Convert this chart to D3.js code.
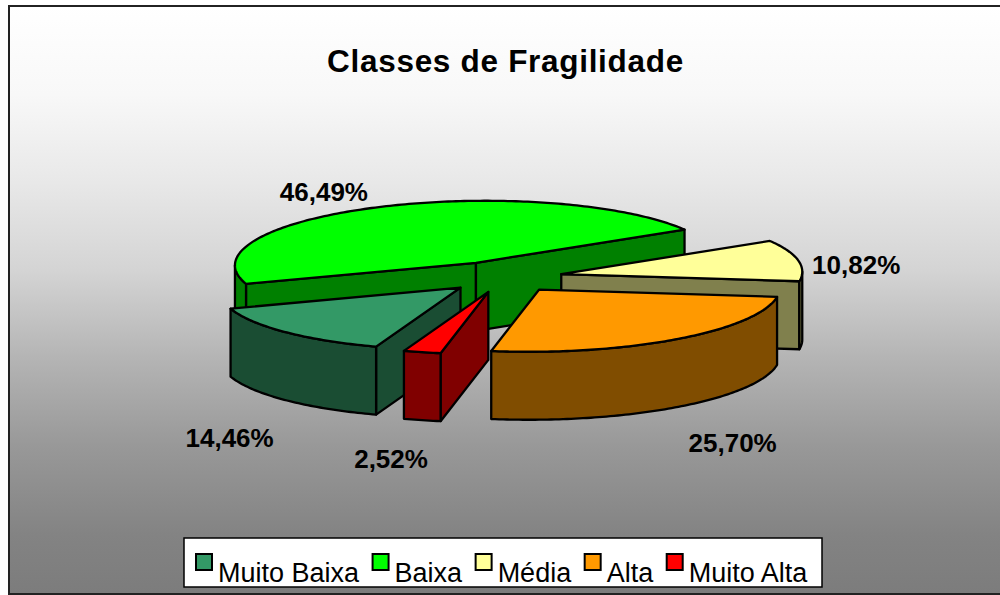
<!DOCTYPE html>
<html><head><meta charset="utf-8">
<script src="https://cdn.jsdelivr.net/npm/d3@7/dist/d3.min.js"></script>
<style>html,body{margin:0;padding:0;background:#fff;overflow:hidden}svg{display:block}
text{font-family:"Liberation Sans",Arial,sans-serif;fill:#000}</style></head>
<body><script>
const categories=["Muito Baixa","Baixa","Média","Alta","Muito Alta"];
const values=[14.46,46.49,10.82,25.70,2.52];
const valueLabels=["14,46%","46,49%","10,82%","25,70%","2,52%"];
const topColors=["#339966","#00ff00","#ffff99","#ff9900","#ff0000"];
const sideColors=["#1a4d33","#008000","#80804d","#804d00","#800000"];
const labelNudges=[[-56,47],[-55,-6],[58,14],[56,45],[-31,48]];
const chartTitle="Classes de Fragilidade";
const gradOffsets=[0,0.15,0.3,0.45,0.6,0.75,0.9,1];
const gradGrays=["#ffffff","#f8f8f8","#e8e8e8","#d4d4d4","#b4b4b4","#989898","#838383","#7c7c7c"];

const W=1000,H=595;
const cx=502.5,cy=277,Rx=241,Ry=62,depth=68,explode=0.25,shearX=10,shearY=2.5;
const svg=d3.select("body").append("svg").attr("width",W).attr("height",H);
const grad=svg.append("defs").append("linearGradient").attr("id","bg").attr("x1",0).attr("x2",0).attr("y1",0).attr("y2",1);
gradOffsets.forEach((o,i)=>grad.append("stop").attr("offset",o).attr("stop-color",gradGrays[i]));
svg.append("rect").attr("x",9).attr("y",6).attr("width",W+20).attr("height",588)
  .attr("fill","url(#bg)").attr("stroke","#222").attr("stroke-width",2);
svg.append("text").attr("x",505.5).attr("y",72).attr("text-anchor","middle")
  .attr("font-weight","bold").attr("font-size",31.5).attr("letter-spacing",0.7).text(chartTitle);

const x=d3.scaleLinear().domain([-1,1]).range([cx-Rx,cx+Rx]);
const y=d3.scaleLinear().domain([-1,1]).range([cy-Ry,cy+Ry]);
const pie=d3.pie().sort(null).startAngle(200.5*Math.PI/180).endAngle((200.5+360)*Math.PI/180);
const arcs=pie(values).map((d,i)=>{
  const s=d.startAngle-Math.PI/2,e=d.endAngle-Math.PI/2,m=(s+e)/2;
  return {i,s,e,m,ox:explode*Math.cos(m),oy:explode*Math.sin(m)};
});
const line=d3.line().curve(d3.curveLinear);
const pt=(a,t,z)=>[x(a.ox+t*Math.cos(z))+shearX*a.oy,y(a.oy+t*Math.sin(z))-shearY*t*Math.cos(z)];
const down=(p)=>[p[0],p[1]+depth];
function sweep(a,from,to){const n=Math.max(2,Math.ceil((to-from)*60));
  return d3.range(n+1).map(k=>pt(a,1,from+(to-from)*k/n));}

const order=arcs.slice().sort((p,q)=>Math.sin(p.m)-Math.sin(q.m));
const g=svg.append("g").attr("stroke","#000").attr("stroke-width",2.3).attr("stroke-linejoin","round");
order.forEach(a=>{
  const side=sideColors[a.i],sl=g.append("g");
  const face=pts=>sl.append("path").attr("d",line(pts)+"Z").attr("fill",side);
  const ap=pt(a,0,0);
  if(Math.cos(a.s)<0){const p=pt(a,1,a.s);face([ap,p,down(p),down(ap)]);}
  if(Math.cos(a.e)>0){const p=pt(a,1,a.e);face([ap,p,down(p),down(ap)]);}
  const twoPi=2*Math.PI;
  for(let k=-1;k<=1;k++){
    const from=Math.max(a.s,k*twoPi),to=Math.min(a.e,k*twoPi+Math.PI);
    if(to>from){const r=sweep(a,from,to);face(r.concat(r.slice().reverse().map(down)));}
  }
  sl.append("path").attr("d",line([ap].concat(sweep(a,a.s,a.e)))+"Z").attr("fill",topColors[a.i]);
});

arcs.forEach(a=>{
  const p=pt(a,1,a.m),d=Math.sin(a.m)>0?depth:0;
  svg.append("text").attr("x",p[0]+labelNudges[a.i][0]).attr("y",p[1]+d+labelNudges[a.i][1])
    .attr("text-anchor","middle").attr("font-weight","bold").attr("font-size",26).text(valueLabels[a.i]);
});

svg.append("rect").attr("x",184).attr("y",538).attr("width",638).attr("height",49)
  .attr("fill","#fff").attr("stroke","#000").attr("stroke-width",1.5);
let lx=196;
categories.forEach((c,i)=>{
  svg.append("rect").attr("x",lx).attr("y",554).attr("width",16).attr("height",16)
    .attr("fill",topColors[i]).attr("stroke","#000").attr("stroke-width",2);
  const t=svg.append("text").attr("x",lx+22).attr("y",582).attr("font-size",27).text(c);
  lx+=22+t.node().getComputedTextLength()+13.5;
});
</script></body></html>
